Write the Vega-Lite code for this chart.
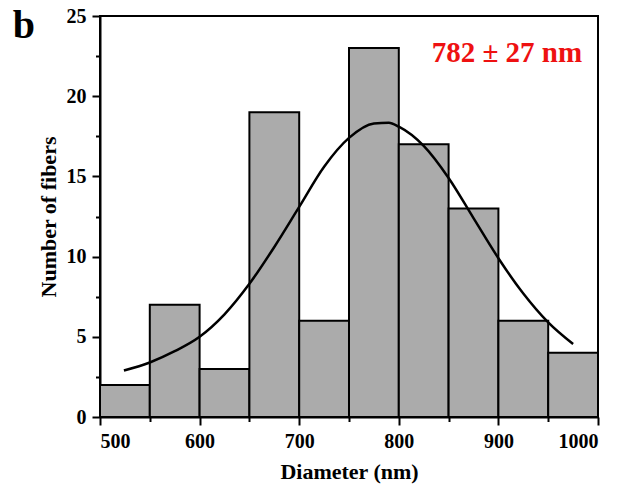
{
  "$schema": "https://vega.github.io/schema/vega-lite/v6.json",
  "autosize": "none",
  "width": 498,
  "height": 401,
  "padding": {"left": 100, "top": 16, "right": 32, "bottom": 78},
  "background": "white",
  "config": {
    "view": {"stroke": "black", "strokeWidth": 2},
    "axis": {
      "grid": false,
      "domainColor": "black",
      "domainWidth": 2,
      "tickColor": "black",
      "tickWidth": 2,
      "labelFont": "Liberation Serif",
      "labelFontSize": 20,
      "labelFontWeight": "bold",
      "labelColor": "black",
      "titleFont": "Liberation Serif",
      "titleFontSize": 22,
      "titleFontWeight": "bold",
      "titleColor": "black"
    }
  },
  "datasets": {
    "bins": [
      {"bin_start": 500, "bin_end": 550, "count": 2},
      {"bin_start": 550, "bin_end": 600, "count": 7},
      {"bin_start": 600, "bin_end": 650, "count": 3},
      {"bin_start": 650, "bin_end": 700, "count": 19},
      {"bin_start": 700, "bin_end": 750, "count": 6},
      {"bin_start": 750, "bin_end": 800, "count": 23},
      {"bin_start": 800, "bin_end": 850, "count": 17},
      {"bin_start": 850, "bin_end": 900, "count": 13},
      {"bin_start": 900, "bin_end": 950, "count": 6},
      {"bin_start": 950, "bin_end": 1000, "count": 4}
    ],
    "fit": [
      {"diameter": 524, "fibers": 2.9},
      {"diameter": 550, "fibers": 3.4},
      {"diameter": 575, "fibers": 4.1},
      {"diameter": 600, "fibers": 5.0},
      {"diameter": 625, "fibers": 6.4},
      {"diameter": 650, "fibers": 8.3},
      {"diameter": 675, "fibers": 10.6},
      {"diameter": 700, "fibers": 13.1},
      {"diameter": 725, "fibers": 15.6},
      {"diameter": 750, "fibers": 17.4},
      {"diameter": 775, "fibers": 18.3},
      {"diameter": 790, "fibers": 18.35},
      {"diameter": 800, "fibers": 18.1},
      {"diameter": 825, "fibers": 16.9},
      {"diameter": 850, "fibers": 14.9},
      {"diameter": 875, "fibers": 12.4},
      {"diameter": 900, "fibers": 9.9},
      {"diameter": 925, "fibers": 7.7},
      {"diameter": 950, "fibers": 5.9},
      {"diameter": 975, "fibers": 4.55}
    ],
    "notes": [
      {"diameter": 833, "fibers": 22.15, "label": "782 ± 27 nm", "kind": "fit"},
      {"diameter": 412.5, "fibers": 23.6, "label": "b", "kind": "panel"}
    ]
  },
  "layer": [
    {
      "data": {"name": "bins"},
      "mark": {"type": "rect", "fill": "#ababab", "stroke": "black", "strokeWidth": 2},
      "encoding": {
        "x": {
          "field": "bin_start",
          "type": "quantitative",
          "scale": {"domain": [500, 1000], "nice": false, "zero": false},
          "axis": {
            "title": "Diameter (nm)",
            "format": "d",
            "values": [500, 550, 600, 650, 700, 750, 800, 850, 900, 950, 1000],
            "labelExpr": "datum.value % 100 === 0 ? datum.label : ''",
            "tickSize": {"condition": {"test": "datum.value % 100 === 0", "value": 8}, "value": 4.5},
            "labelPadding": 6,
            "titlePadding": 10
          }
        },
        "x2": {"field": "bin_end"},
        "y": {
          "field": "count",
          "type": "quantitative",
          "scale": {"domain": [0, 25], "nice": false},
          "axis": {
            "title": "Number of fibers",
            "values": [0, 2.5, 5, 7.5, 10, 12.5, 15, 17.5, 20, 22.5, 25],
            "labelExpr": "datum.value % 5 === 0 ? datum.label : ''",
            "tickSize": {"condition": {"test": "datum.value % 5 === 0", "value": 8}, "value": 4.5},
            "labelPadding": 6,
            "titlePadding": 6
          }
        },
        "y2": {"datum": 0}
      }
    },
    {
      "data": {"name": "fit"},
      "mark": {"type": "line", "color": "black", "strokeWidth": 2.5, "interpolate": "monotone"},
      "encoding": {
        "x": {"field": "diameter", "type": "quantitative"},
        "y": {"field": "fibers", "type": "quantitative"}
      }
    },
    {
      "data": {"name": "notes"},
      "transform": [{"filter": "datum.kind === 'fit'"}],
      "mark": {
        "type": "text",
        "align": "left",
        "baseline": "alphabetic",
        "font": "Liberation Serif",
        "fontSize": 29,
        "fontWeight": "bold",
        "color": "#ee1111"
      },
      "encoding": {
        "x": {"field": "diameter", "type": "quantitative"},
        "y": {"field": "fibers", "type": "quantitative"},
        "text": {"field": "label"}
      }
    },
    {
      "data": {"name": "notes"},
      "transform": [{"filter": "datum.kind === 'panel'"}],
      "mark": {
        "type": "text",
        "align": "left",
        "baseline": "alphabetic",
        "clip": false,
        "font": "Liberation Serif",
        "fontSize": 40,
        "fontWeight": "bold",
        "color": "black"
      },
      "encoding": {
        "x": {"field": "diameter", "type": "quantitative"},
        "y": {"field": "fibers", "type": "quantitative"},
        "text": {"field": "label"}
      }
    }
  ]
}
